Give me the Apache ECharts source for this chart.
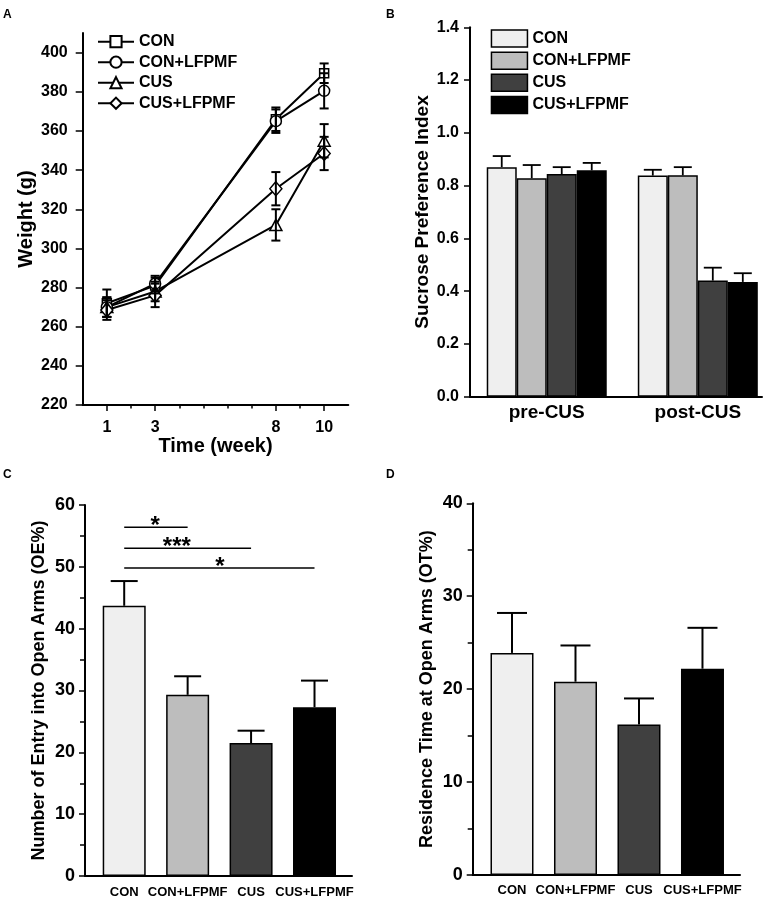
<!DOCTYPE html>
<html><head><meta charset="utf-8">
<script src="https://cdn.jsdelivr.net/npm/echarts@6/dist/echarts.min.js"></script>
<style>html,body{margin:0;padding:0;background:#fff}#c{width:777px;height:900px}</style>
</head><body><div id="c"></div>
<script>
// ---------- data ----------
const groups = ['CON', 'CON+LFPMF', 'CUS', 'CUS+LFPMF'];

// Panel A: body weight
const weeks = [1, 3, 8, 10];
const weightCON = [272, 281, 366, 389.5];
const weightCONErr = [7, 4, 6, 5];
const weightCONL = [270, 282, 365, 380.5];
const weightCONLErr = [5, 4, 6, 9];
const weightCUS = [270, 278, 312, 355];
const weightCUSErr = [5, 5, 8, 8.5];
const weightCUSL = [268.5, 276, 330.5, 348.5];
const weightCUSLErr = [5, 6, 8.5, 8.5];
const weightTicks = [220, 240, 260, 280, 300, 320, 340, 360, 380, 400];
const weekTicks = [1, 2, 3, 4, 5, 6, 7, 8, 9, 10];
const weekLabels = [1, 3, 8, 10];

// Panel B: sucrose preference
const sucroseCats = ['pre-CUS', 'post-CUS'];
const sucCON = [0.870, 0.838];
const sucCONErr = [0.042, 0.022];
const sucCONL = [0.828, 0.839];
const sucCONLErr = [0.050, 0.031];
const sucCUS = [0.844, 0.440];
const sucCUSErr = [0.026, 0.049];
const sucCUSL = [0.858, 0.435];
const sucCUSLErr = [0.028, 0.033];

// Panel C: open-arm entries
const oeMean = [43.7, 29.3, 21.5, 27.3];
const oeErr = [4.0, 3.0, 2.0, 4.3];
// [from, to, y, stars, starX]
const oeSig = [[0, 1, 56.4, '*', 0.49], [0, 2, 53.0, '***', 0.83], [0, 3, 49.8, '*', 1.51]];

// Panel D: open-arm time
const otMean = [23.9, 20.8, 16.2, 22.2];
const otErr = [4.3, 3.9, 2.8, 4.4];

// ---------- styling ----------
const FONT = 'Liberation Sans, Arial, sans-serif';
const barColors = ['#efefef', '#bdbdbd', '#404040', '#000000'];
const lineSymbols = ['rect', 'circle', 'triangle', 'diamond'];
const lineSymbolSizes = [9, 11, [12, 11], [12, 14]];

function errRender(offsetPx, capW, both, lw) {
  return function (params, api) {
    const x = api.value(0), v = api.value(1), e = api.value(2);
    const top = api.coord([x, v + e]);
    const bot = api.coord([x, both ? v - e : v]);
    const cx = top[0] + offsetPx;
    const st = { stroke: '#000', lineWidth: lw };
    const ch = [
      { type: 'line', shape: { x1: cx, y1: top[1], x2: cx, y2: bot[1] }, style: st },
      { type: 'line', shape: { x1: cx - capW / 2, y1: top[1], x2: cx + capW / 2, y2: top[1] }, style: st }
    ];
    if (both) ch.push({ type: 'line', shape: { x1: cx - capW / 2, y1: bot[1], x2: cx + capW / 2, y2: bot[1] }, style: st });
    return { type: 'group', children: ch };
  };
}

function sigRender(params, api) {
  const x1 = api.value(0), x2 = api.value(1), y = api.value(2), sx = api.value(4);
  const p1 = api.coord([x1, y]), p2 = api.coord([x2, y]), ps = api.coord([sx, y]);
  const txt = oeSig[params.dataIndex][3];
  return {
    type: 'group', children: [
      { type: 'line', shape: { x1: p1[0], y1: p1[1], x2: p2[0], y2: p2[1] }, style: { stroke: '#000', lineWidth: 1.6 } },
      { type: 'text', style: { text: txt, x: ps[0], y: p1[1] - 1, align: 'center', verticalAlign: 'middle', font: 'bold 24px ' + FONT, fill: '#000' } }
    ]
  };
}

const axisLineS = { onZero: false, lineStyle: { color: '#000', width: 2 } };
const tickS = { lineStyle: { color: '#000', width: 1.5 } };
function lbl(size, extra) {
  return Object.assign({ color: '#000', fontWeight: 'bold', fontSize: size, fontFamily: FONT }, extra || {});
}
function nameS(size) { return { color: '#000', fontWeight: 'bold', fontSize: size, fontFamily: FONT }; }
function letter(t, l, tp) {
  return { text: t, left: l, top: tp, padding: 0, textStyle: { fontSize: 12, fontWeight: 'bold', fontFamily: FONT, color: '#000' } };
}

const series = [];
// Panel A
const aVals = [weightCON, weightCONL, weightCUS, weightCUSL];
const aErrs = [weightCONErr, weightCONLErr, weightCUSErr, weightCUSLErr];
aVals.forEach((vals, k) => {
  series.push({
    name: 'A|' + groups[k], type: 'line', xAxisIndex: 0, yAxisIndex: 0,
    data: weeks.map((w, i) => [w, vals[i]]),
    symbol: lineSymbols[k], symbolSize: lineSymbolSizes[k], showAllSymbol: true,
    lineStyle: { color: '#000', width: 2 },
    itemStyle: { color: '#fff', borderColor: '#000', borderWidth: 1.5 },
    z: 3, silent: true
  });
});
aVals.forEach((vals, k) => {
  series.push({
    name: 'Aerr' + k, type: 'custom', xAxisIndex: 0, yAxisIndex: 0,
    data: weeks.map((w, i) => [w, vals[i], aErrs[k][i]]),
    encode: { x: 0, y: 1 }, renderItem: errRender(0, 9, true, 2), z: 4, silent: true
  });
});
// Panel B
const bVals = [sucCON, sucCONL, sucCUS, sucCUSL];
const bErrs = [sucCONErr, sucCONLErr, sucCUSErr, sucCUSLErr];
const bBarW = 30;
bVals.forEach((vals, k) => {
  series.push({
    name: 'B|' + groups[k], type: 'bar', xAxisIndex: 1, yAxisIndex: 1,
    data: vals.map((v, i) => [i, v]), barWidth: bBarW, barGap: '0%',
    itemStyle: { color: barColors[k], borderColor: '#000', borderWidth: 1.5 }, silent: true
  });
});
bVals.forEach((vals, k) => {
  series.push({
    name: 'Berr' + k, type: 'custom', xAxisIndex: 1, yAxisIndex: 1,
    data: vals.map((v, i) => [i, v, bErrs[k][i]]),
    encode: { x: 0, y: 1 }, renderItem: errRender((k - 1.5) * bBarW, 18, false, 1.8), z: 5, silent: true
  });
});
// Panel C
series.push({
  name: 'C', type: 'bar', xAxisIndex: 2, yAxisIndex: 2, barWidth: 43,
  data: oeMean.map((v, i) => ({ value: [i, v], itemStyle: { color: barColors[i] } })),
  itemStyle: { borderColor: '#000', borderWidth: 1.5 }, silent: true
});
series.push({
  name: 'Cerr', type: 'custom', xAxisIndex: 2, yAxisIndex: 2,
  data: oeMean.map((v, i) => [i, v, oeErr[i]]), encode: { x: 0, y: 1 },
  renderItem: errRender(0, 27, false, 2), z: 5, silent: true
});
series.push({
  name: 'Csig', type: 'custom', xAxisIndex: 2, yAxisIndex: 2,
  data: oeSig.map(s => [s[0], s[1], s[2], 0, s[4]]), encode: { x: [0, 1], y: 2 },
  renderItem: sigRender, z: 5, silent: true
});
// Panel D
series.push({
  name: 'D', type: 'bar', xAxisIndex: 3, yAxisIndex: 3, barWidth: 43,
  data: otMean.map((v, i) => ({ value: [i, v], itemStyle: { color: barColors[i] } })),
  itemStyle: { borderColor: '#000', borderWidth: 1.5 }, silent: true
});
series.push({
  name: 'Derr', type: 'custom', xAxisIndex: 3, yAxisIndex: 3,
  data: otMean.map((v, i) => [i, v, otErr[i]]), encode: { x: 0, y: 1 },
  renderItem: errRender(0, 30, false, 2), z: 5, silent: true
});

const option = {
  animation: false,
  backgroundColor: '#fff',
  textStyle: { fontFamily: FONT },
  title: [letter('A', 3, 9), letter('B', 386, 9), letter('C', 3, 469), letter('D', 386, 469)],
  legend: [
    {
      data: groups.map(g => 'A|' + g), orient: 'vertical', left: 97, top: 33.7, padding: 0,
      itemWidth: 36, itemHeight: 14, itemGap: 4.5, selectedMode: false,
      formatter: n => n.split('|')[1],
      textStyle: { color: '#000', fontWeight: 'bold', fontSize: 16, fontFamily: FONT }
    },
    {
      data: groups.map(g => 'B|' + g), orient: 'vertical', left: 490.7, top: 29.2, padding: 0,
      itemWidth: 36, itemHeight: 17, itemGap: 3.7, icon: 'rect', selectedMode: false,
      itemStyle: { borderWidth: 1.5, borderColor: '#000' },
      formatter: n => n.split('|')[1],
      textStyle: { color: '#000', fontWeight: 'bold', fontSize: 16, fontFamily: FONT }
    }
  ],
  grid: [
    { left: 82.7, top: 33.1, width: 265.6, height: 371.9 },
    { left: 470, top: 27.3, width: 292, height: 369.4 },
    { left: 85, top: 505, width: 267, height: 371 },
    { left: 472.7, top: 503.3, width: 267.3, height: 371.7 }
  ],
  xAxis: [
    {
      gridIndex: 0, type: 'value', min: 0, max: 11,
      name: 'Time (week)', nameLocation: 'middle', nameGap: 29, nameTextStyle: nameS(20),
      axisLine: axisLineS, splitLine: { show: false },
      axisTick: Object.assign({ customValues: weekLabels, length: 6 }, tickS),
      axisLabel: lbl(16, { customValues: weekLabels, margin: 15 })
    },
    {
      gridIndex: 1, type: 'value', min: -0.508, max: 1.425,
      axisLine: axisLineS, splitLine: { show: false }, axisTick: { show: false },
      axisLabel: lbl(19, { customValues: [0, 1], margin: 7, formatter: v => sucroseCats[Math.round(v)] })
    },
    {
      gridIndex: 2, type: 'value', min: -0.618, max: 3.591,
      axisLine: axisLineS, splitLine: { show: false }, axisTick: { show: false },
      axisLabel: lbl(13, { customValues: [0, 1, 2, 3], margin: 10, formatter: v => groups[Math.round(v)] })
    },
    {
      gridIndex: 3, type: 'value', min: -0.619, max: 3.591,
      axisLine: axisLineS, splitLine: { show: false }, axisTick: { show: false },
      axisLabel: lbl(13, { customValues: [0, 1, 2, 3], margin: 9, formatter: v => groups[Math.round(v)] })
    },
    {
      // short ticks at every week (panel A)
      gridIndex: 0, type: 'value', min: 0, max: 11, position: 'bottom',
      axisLine: { show: false, onZero: false }, splitLine: { show: false },
      axisTick: Object.assign({ customValues: weekTicks, length: 3.5 }, tickS),
      axisLabel: { show: false }
    }
  ],
  yAxis: [
    {
      gridIndex: 0, type: 'value', min: 220, max: 410,
      name: 'Weight (g)', nameLocation: 'middle', nameGap: 46, nameTextStyle: nameS(20),
      axisLine: axisLineS, splitLine: { show: false },
      axisTick: Object.assign({ customValues: weightTicks, length: 7 }, tickS),
      axisLabel: lbl(16, { customValues: weightTicks, margin: 15 })
    },
    {
      gridIndex: 1, type: 'value', min: 0, max: 1.4, interval: 0.2,
      name: 'Sucrose Preference Index', nameLocation: 'middle', nameGap: 37.5, nameTextStyle: nameS(19),
      axisLine: axisLineS, splitLine: { show: false },
      axisTick: Object.assign({ length: 6 }, tickS),
      axisLabel: lbl(16, { margin: 11, formatter: v => v.toFixed(1) })
    },
    {
      gridIndex: 2, type: 'value', min: 0, max: 60, interval: 10,
      name: 'Number of Entry into Open Arms (OE%)', nameLocation: 'middle', nameGap: 37, nameTextStyle: nameS(18),
      axisLine: axisLineS, splitLine: { show: false },
      axisTick: Object.assign({ length: 6 }, tickS),
      minorTick: { show: true, splitNumber: 2, length: 5, lineStyle: { color: '#000', width: 1.5 } },
      axisLabel: lbl(18, { margin: 10 })
    },
    {
      gridIndex: 3, type: 'value', min: 0, max: 40, interval: 10,
      name: 'Residence Time at Open Arms (OT%)', nameLocation: 'middle', nameGap: 37, nameTextStyle: nameS(18),
      axisLine: axisLineS, splitLine: { show: false },
      axisTick: Object.assign({ length: 6 }, tickS),
      minorTick: { show: true, splitNumber: 2, length: 5, lineStyle: { color: '#000', width: 1.5 } },
      axisLabel: lbl(18, { margin: 10 })
    }
  ],
  series: series
};

const chart = echarts.init(document.getElementById('c'), null, { renderer: 'canvas' });
chart.setOption(option);
</script>
</body></html>
